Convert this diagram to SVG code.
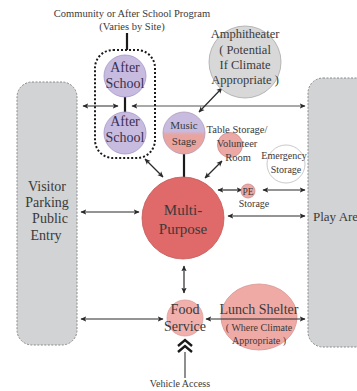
<svg xmlns="http://www.w3.org/2000/svg" width="357" height="391" viewBox="0 0 357 391">
<defs>
<style>
text{font-family:"Liberation Serif","DejaVu Serif",serif;fill:#3a3a3a;text-anchor:middle}
.zone{fill:#d1d3d4;stroke:#8a8a8a;stroke-width:1;stroke-dasharray:2,1.5}
.as{fill:#c7bce0;stroke:#a497c8;stroke-width:0.8}
.pk{fill:#eca8a4;stroke:#d08a86;stroke-width:0.8}
.ar{stroke:#2a2a2a;stroke-width:1.2;fill:none;marker-start:url(#ah);marker-end:url(#ah)}
.as-t{fill:#3a3050;font-size:14px}
</style>
<marker id="ah" viewBox="0 0 10 10" refX="9" refY="5" markerWidth="6" markerHeight="6" orient="auto-start-reverse" markerUnits="userSpaceOnUse">
<path d="M0,0.5 L10,5 L0,9.5 L2.5,5 Z" fill="#2a2a2a"/>
</marker>
<linearGradient id="ms" x1="0" y1="0" x2="0" y2="1">
<stop offset="0" stop-color="#c7bce0"/>
<stop offset="0.45" stop-color="#c7bce0"/>
<stop offset="0.55" stop-color="#e9a4a0"/>
<stop offset="1" stop-color="#e9a4a0"/>
</linearGradient>
</defs>

<g id="title">
<text x="132" y="17" font-size="10.5">Community or After School Program</text>
<text x="132" y="30" font-size="10.5">(Varies by Site)</text>
</g>

<g id="visitor">
<rect class="zone" x="17" y="82" width="60" height="263" rx="15"/>
<text x="47" y="191" font-size="14">Visitor</text>
<text x="47" y="207" font-size="14">Parking</text>
<text x="50" y="223" font-size="14">Public</text>
<text x="46" y="240" font-size="14">Entry</text>
</g>

<g id="play">
<rect class="zone" x="308" y="78" width="70" height="269" rx="15"/>
<text x="313" y="221" font-size="13" style="text-anchor:start">Play Area</text>
</g>

<g id="connectors">
<line x1="127" y1="33" x2="127" y2="50" stroke="#1a1a1a" stroke-width="2.2"/>
<line x1="125" y1="96" x2="125" y2="113" stroke="#1a1a1a" stroke-width="2.2"/>
<line x1="83" y1="106" x2="118" y2="106" class="ar"/>
<line x1="132" y1="106" x2="305" y2="106" class="ar" stroke-width="1.6" style="stroke:#555"/>
<line x1="199" y1="112" x2="222" y2="88" class="ar"/>
<line x1="184" y1="154" x2="184" y2="178" stroke="#1a1a1a" stroke-width="2.2"/>
<line x1="145" y1="159" x2="163" y2="177" class="ar"/>
<line x1="222" y1="161" x2="205" y2="178" class="ar"/>
<line x1="218" y1="190" x2="242" y2="190" class="ar"/>
<line x1="263" y1="190" x2="305" y2="190" class="ar"/>
<line x1="228" y1="216" x2="305" y2="216" class="ar"/>
<line x1="81" y1="212" x2="139" y2="212" class="ar"/>
<line x1="184" y1="266" x2="184" y2="293" class="ar"/>
<line x1="81" y1="319" x2="163" y2="319" class="ar"/>
<line x1="185" y1="378" x2="185" y2="352" stroke="#444" stroke-width="1.2"/>
<path d="M178,346 L185,340 L192,346 M178,352 L185,346 L192,352" stroke="#1a1a1a" stroke-width="2.4" fill="none"/>
</g>

<g id="after-school-group">
<rect x="95" y="50" width="60" height="108" rx="18" fill="none" stroke="#1a1a1a" stroke-width="2" stroke-dasharray="2,2"/>
</g>

<g id="after-school-1">
<circle class="as" cx="125" cy="76" r="21"/>
<text class="as-t" x="125" y="72">After</text>
<text class="as-t" x="125" y="88">School</text>
</g>

<g id="after-school-2">
<circle class="as" cx="125" cy="133" r="21"/>
<text class="as-t" x="125" y="126">After</text>
<text class="as-t" x="125" y="142">School</text>
</g>

<g id="amphitheater">
<circle cx="245" cy="62" r="36" fill="#d8d8d8" stroke="#a8a8a8" stroke-width="0.8"/>
<text x="245" y="38" font-size="12.5">Amphitheater</text>
<text x="245" y="54" font-size="12.5">( Potential</text>
<text x="245" y="69" font-size="12.5">If Climate</text>
<text x="245" y="84" font-size="12.5">Appropriate )</text>
</g>

<g id="music-stage">
<circle cx="184" cy="133" r="21" fill="url(#ms)" stroke="#b09ab8" stroke-width="0.8"/>
<text x="184" y="129" font-size="11" fill="#3a3050">Music</text>
<text x="184" y="145" font-size="11" fill="#4a2a2a">Stage</text>
</g>

<g id="table-storage">
<circle class="pk" cx="230" cy="145" r="12.5"/>
<text x="237" y="133" font-size="10.5">Table Storage/</text>
<text x="237" y="147" font-size="10.5">Volunteer</text>
<text x="238" y="161" font-size="10.5">Room</text>
</g>

<g id="emergency-storage">
<circle cx="286" cy="164" r="19" fill="#fff" stroke="#bbb" stroke-width="0.8"/>
<text x="284" y="159" font-size="10">Emergency</text>
<text x="286" y="173" font-size="10">Storage</text>
</g>

<g id="pe-storage">
<circle class="pk" cx="248" cy="191" r="7"/>
<text x="248" y="194.5" font-size="9.5">PE</text>
<text x="254" y="207" font-size="10">Storage</text>
</g>

<g id="multi-purpose">
<circle cx="183" cy="218" r="41" fill="#e06a6a" stroke="#c45858" stroke-width="0.8"/>
<text x="183" y="215" font-size="15" fill="#4a1818">Multi-</text>
<text x="183" y="234" font-size="15" fill="#4a1818">Purpose</text>
</g>

<g id="food-service">
<circle cx="185" cy="318" r="18" fill="#f1b0ac" stroke="#dba09c" stroke-width="0.8"/>
<text x="185" y="314" font-size="14" fill="#4a3030">Food</text>
<text x="185" y="331" font-size="14" fill="#4a3030">Service</text>
</g>

<g id="lunch-shelter">
<ellipse cx="259" cy="317" rx="38" ry="33" fill="#f0aaa6" stroke="#d89490" stroke-width="0.8"/>
<text x="259" y="314" font-size="14" fill="#4a2828">Lunch Shelter</text>
<text x="259" y="331" font-size="10" fill="#5a3030">( Where Climate</text>
<text x="259" y="344" font-size="10" fill="#5a3030">Appropriate )</text>
</g>

<g id="food-lunch-connector">
<line x1="206" y1="319" x2="305" y2="319" class="ar"/>
</g>

<g id="vehicle-access">
<text x="180" y="387" font-size="10">Vehicle Access</text>
</g>
</svg>
